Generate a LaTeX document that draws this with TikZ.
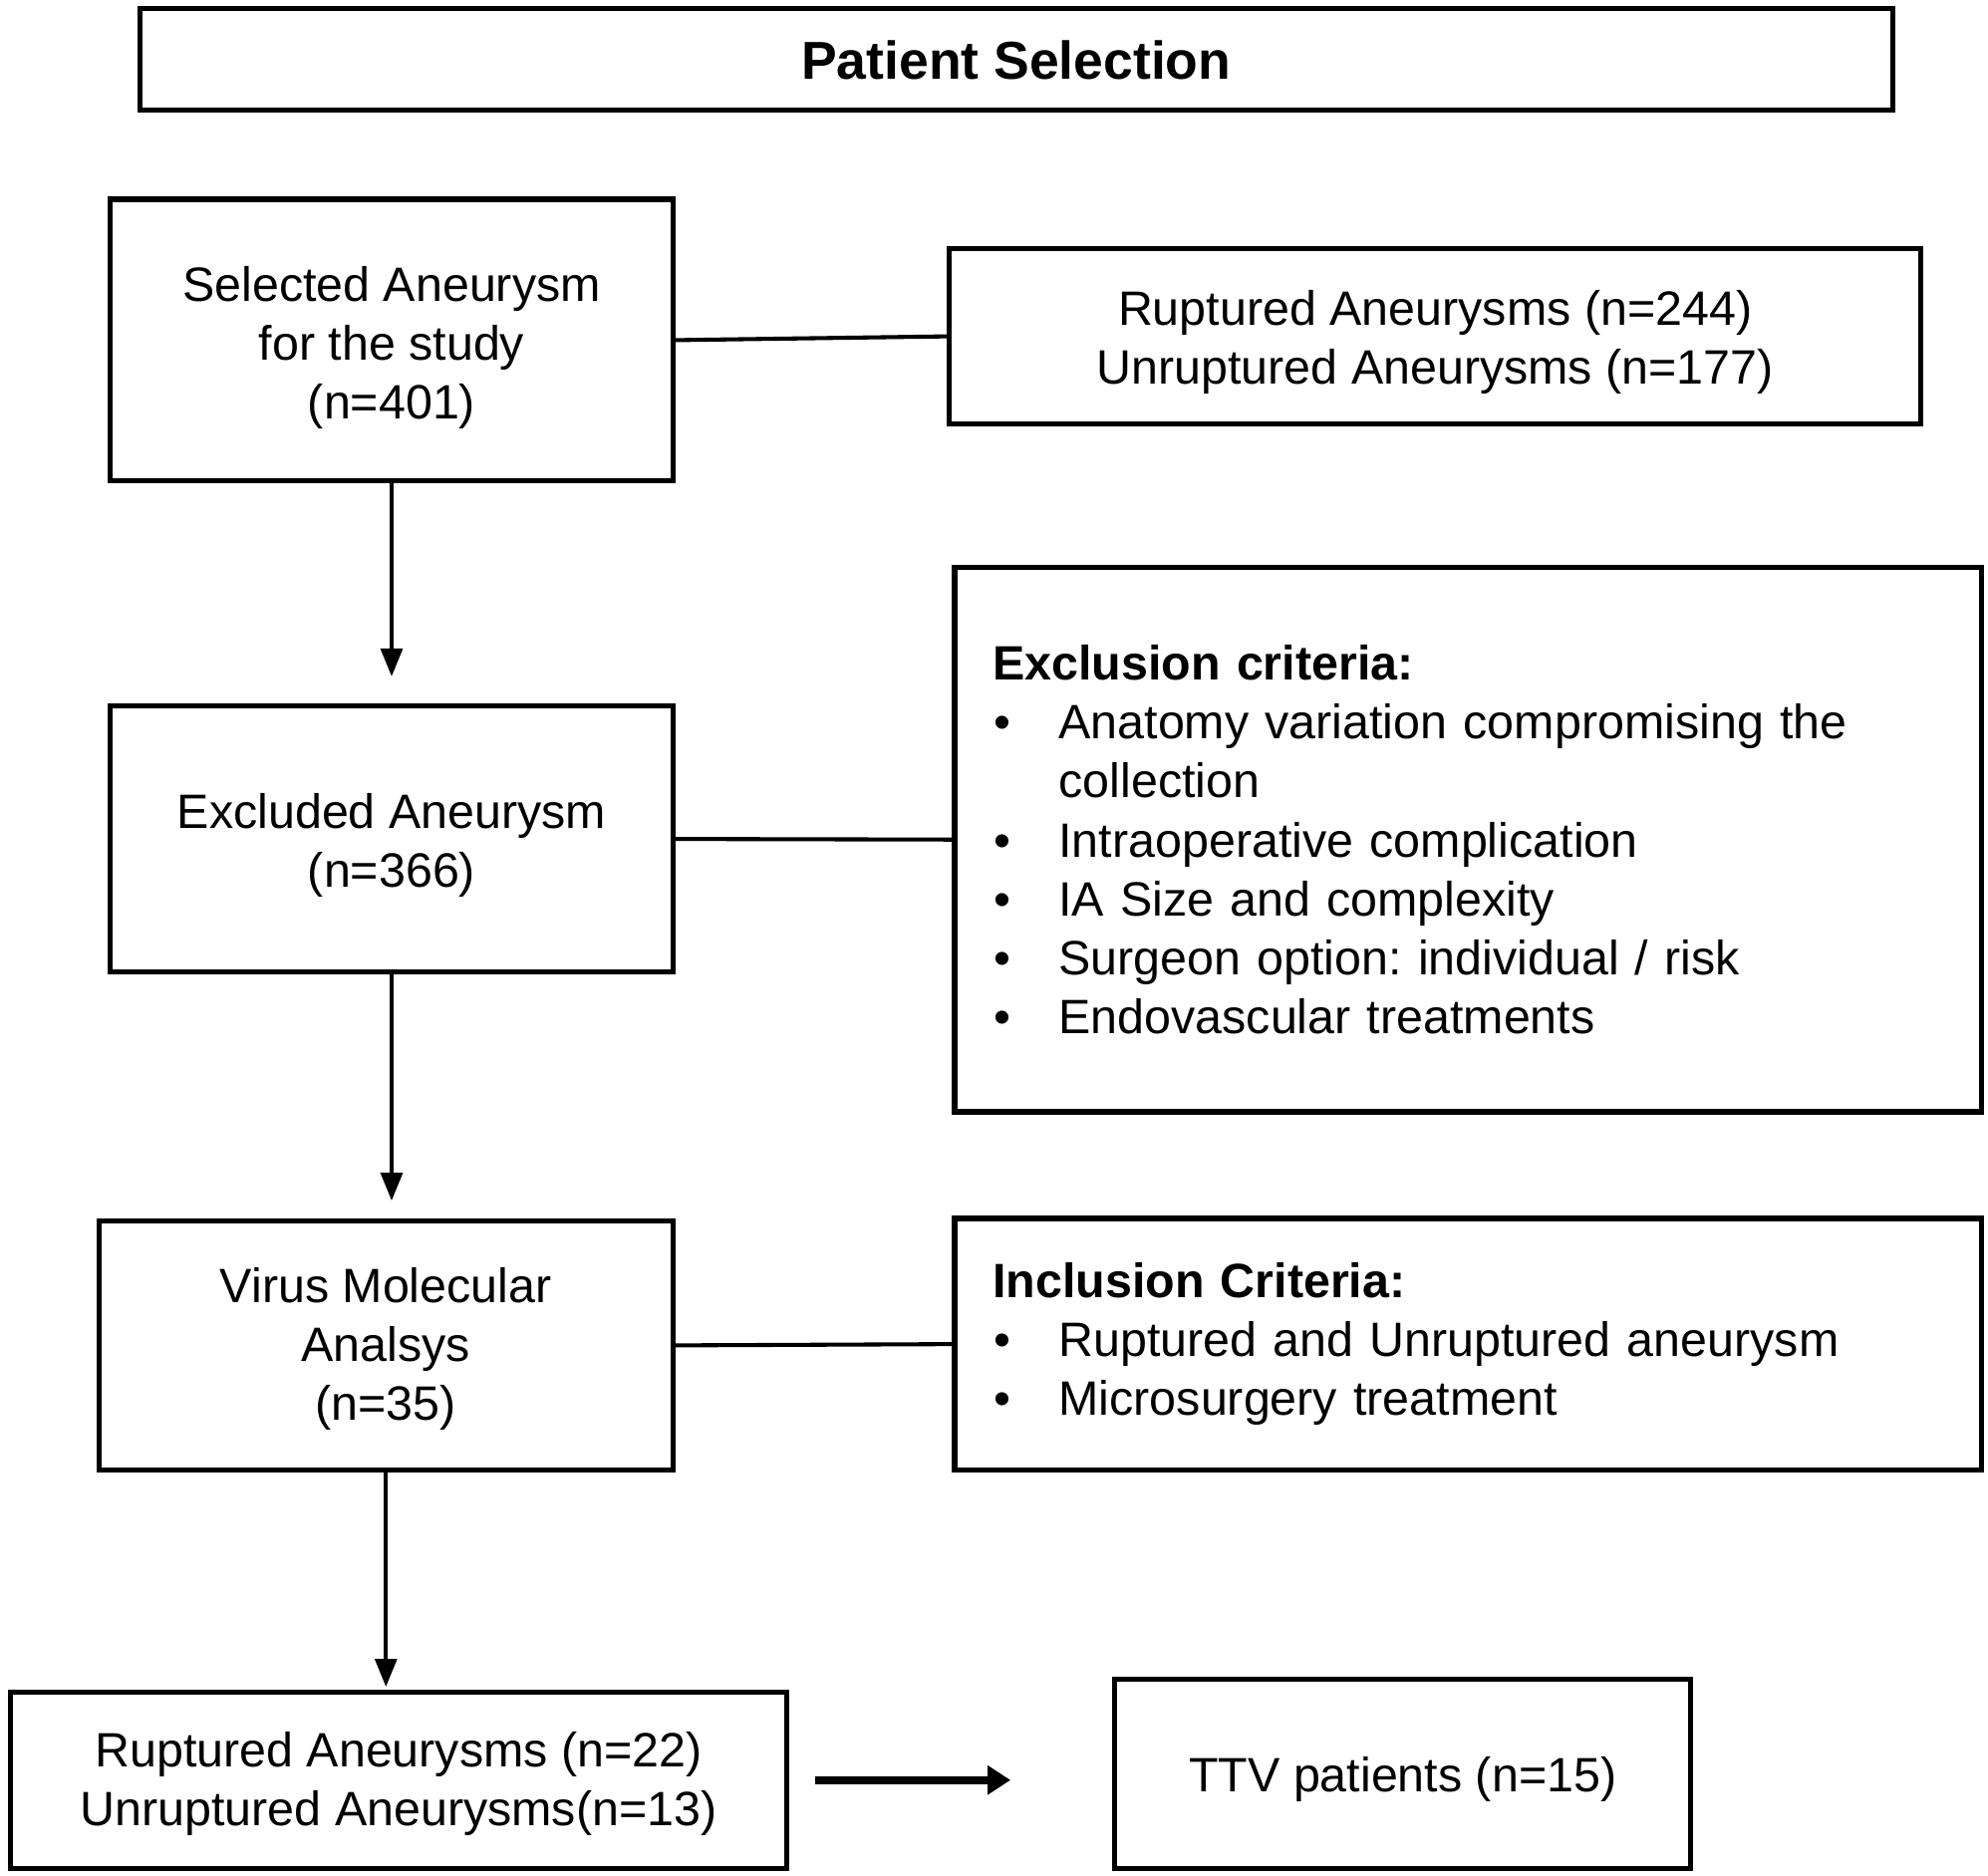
\documentclass[tikz,border=0pt]{standalone}
\usepackage{fontspec}
\setmainfont{Liberation Sans}
\usetikzlibrary{arrows.meta}
\frenchspacing
\begin{document}
\begin{tikzpicture}[x=0.5pt,y=-0.5pt,
  box/.style={draw, line width=2pt, inner sep=0pt, align=center,
    font=\fontsize{19pt}{23.2pt}\selectfont},
  listbox/.style={draw, line width=2pt, inner xsep=15pt, inner ysep=0pt, align=left,
    text width=374.5pt, font=\fontsize{19pt}{23.2pt}\selectfont},
  link/.style={line width=1.6pt},
  flow/.style={line width=1.6pt, -{Triangle[length=11pt,width=8.5pt]}},
  bigflow/.style={line width=3pt, -{Triangle[length=9pt,width=11pt]}}]
\useasboundingbox (0,0) rectangle (1566,1477.3);
\newcommand{\blt}{\makebox[26pt][l]{\hspace{0.5pt}•}}
\newcommand{\tstrut}[1]{\rule{0pt}{#1}}

\node[box, minimum width=690.5pt, minimum height=40pt,
  font=\bfseries\fontsize{21pt}{25pt}\selectfont] (title) at (800.5,47) {Patient Selection};

\node[box, minimum width=221.5pt, minimum height=111pt] (sel) at (308.5,268)
  {\tstrut{19.5pt}Selected Aneurysm\\for the study\\(n=401)};
\node[box, minimum width=382.5pt, minimum height=69pt] (rup) at (1130.5,265)
  {\tstrut{18.5pt}Ruptured Aneurysms (n=244)\\Unruptured Aneurysms (n=177)};

\node[box, minimum width=221.5pt, minimum height=105pt] (exc) at (308.5,661)
  {\tstrut{19pt}Excluded Aneurysm\\(n=366)};
\node[listbox, minimum height=214.5pt] (crit) at (1156.5,661.5)
  {\textbf{Exclusion criteria:}\\
   \blt Anatomy variation compromising the\\
   \hspace*{26pt}collection\\
   \blt Intraoperative complication\\
   \blt IA Size and complexity\\
   \blt Surgeon option: individual / risk\\
   \blt Endovascular treatments};

\node[box, minimum width=226pt, minimum height=98pt] (vir) at (304,1060)
  {\tstrut{16.5pt}Virus Molecular\\Analsys\\(n=35)};
\node[listbox, minimum height=99pt] (inc) at (1156.5,1059)
  {\textbf{Inclusion Criteria:}\\
   \blt Ruptured and Unruptured aneurysm\\
   \blt Microsurgery treatment};

\node[box, minimum width=306pt, minimum height=69.5pt] (res) at (314,1402.5)
  {\tstrut{16.5pt}Ruptured Aneurysms (n=22)\\Unruptured Aneurysms(n=13)};
\node[box, minimum width=227pt, minimum height=74.5pt] (ttv) at (1105,1397.5)
  {\tstrut{18.5pt}TTV patients (n=15)};

\draw[link] (sel.east) -- (rup.west);
\draw[link] (exc.east) -- (crit.west);
\draw[link] (vir.east) -- (inc.west);

\draw[flow, shorten >=10.5pt] (sel.south) -- (exc.north);
\draw[flow, shorten >=7pt] (exc.south) -- (exc.south |- vir.north);
\draw[flow, shorten >=1pt] (vir.south) -- (vir.south |- res.north);
\coordinate (mid) at (ttv.west |- res.east);
\draw[bigflow, shorten <=10pt, shorten >=40pt] (res.east) -- (mid);
\end{tikzpicture}
\end{document}
